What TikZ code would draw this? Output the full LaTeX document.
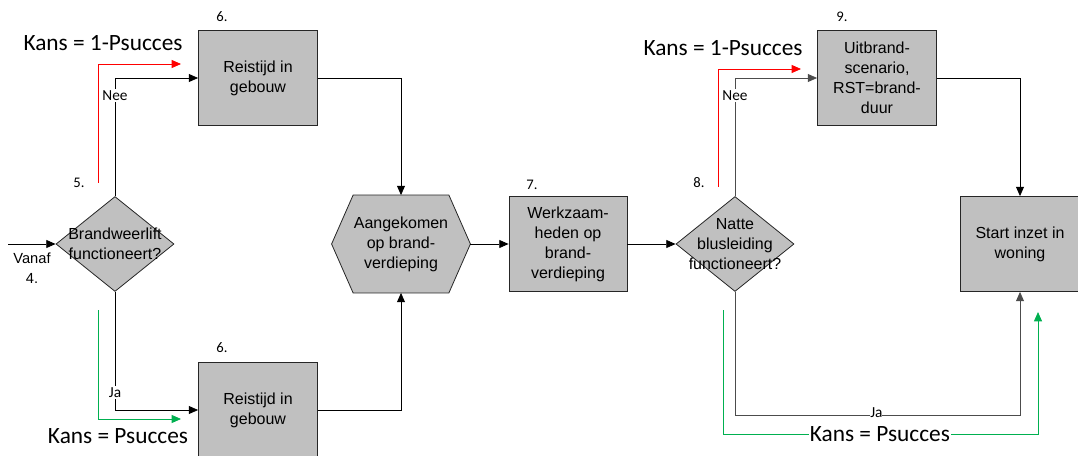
\documentclass[tikz,border=0pt]{standalone}
\usepackage{fontspec}
\setmainfont{Liberation Sans}
\newfontfamily\calibri{Carlito}
\usepackage{tikz}
\usetikzlibrary{shapes.geometric, arrows.meta, calc}
\definecolor{boxgray}{RGB}{192,192,192}
\definecolor{kansrood}{RGB}{255,0,0}
\definecolor{kansgroen}{RGB}{0,176,80}
\tikzstyle{flow} = [-{Triangle[length=7pt,width=6pt]}]
\tikzstyle{stap} = [rectangle, draw=black!85, fill=boxgray, minimum width=89.25pt, minimum height=71.25pt, align=center, font=\fontsize{12}{15}\selectfont]
\tikzstyle{keuze} = [diamond, draw=black!85, fill=boxgray, minimum width=88.5pt, minimum height=71.25pt, inner sep=0pt]
\tikzstyle{tekst} = [align=center, font=\fontsize{12}{15}\selectfont]
\tikzstyle{nr} = [font=\calibri\fontsize{11}{13}\selectfont]
\tikzstyle{kans} = [font=\calibri\fontsize{17.5}{20}\selectfont]
\tikzstyle{lbl} = [fill=white, inner sep=1pt, font=\calibri\fontsize{11.5}{13}\selectfont]

\begin{document}
\begin{tikzpicture}[x=0.75pt,y=-0.75pt,line width=0.6pt]
\useasboundingbox (0,0) rectangle (1078,456);
% blokken
\node[keuze] (lift) at (115,244) {};
\node[tekst] (lifttxt) at (lift) {Brandweerlift\\functioneert?};
\node[stap] (reisboven) at (258,78) {Reistijd in\\gebouw};
\node[stap] (reisonder) at (258,410) {Reistijd in\\gebouw};
\node[tekst, minimum width=103.5pt, minimum height=72.75pt, inner sep=0pt] (aan) at (401,244) {};
\draw[draw=black!85, fill=boxgray] (aan.west) -- ($(aan.north west)+(21.5,0)$) -- ($(aan.north east)+(-21.5,0)$)
  -- (aan.east) -- ($(aan.south east)+(-21.5,0)$) -- ($(aan.south west)+(21.5,0)$) -- cycle;
\node[tekst] (aantxt) at (aan) {Aangekomen\\op brand-\\verdieping};
\node[stap, minimum width=88.5pt] (werk) at (568,244) {Werkzaam-\\heden op\\brand-\\verdieping};
\node[keuze] (natte) at (735,244) {};
\node[tekst] (nattetxt) at (natte) {Natte\\blusleiding\\functioneert?};
\node[stap] (uitbrand) at (877,78) {Uitbrand-\\scenario,\\RST=brand-\\duur};
\node[stap] (start) at (1020,244) {Start inzet in\\woning};
% nummers
\node[nr] (n4) at (32,268) [align=center, font=\fontsize{11}{15}\selectfont] {Vanaf\\4.};
\node[nr] (n5) at (79,183) {5.};
\node[nr] (n6a) at (222,17) {6.};
\node[nr] (n6b) at (222,348) {6.};
\node[nr] (n7) at (532,185) {7.};
\node[nr] (n8) at (699,183) {8.};
\node[nr] (n9) at (842,17) {9.};
% verbindingen
\coordinate (vanaf) at (8,244);
\draw[flow] (vanaf) -- (lift.west);
\draw[flow] (lift.north) |- node[lbl, pos=0.425] {Nee} (reisboven.west);
\draw[flow] (lift.south) |- node[lbl, pos=0.427] {Ja} (reisonder.west);
\draw[flow] (reisboven.east) -| (aan.north);
\draw[flow] (reisonder.east) -| (aan.south);
\draw[flow] (aan.east) -- (werk.west);
\draw[flow] (werk.east) -- (natte.west);
\draw[flow, black!70] (natte.north) |- node[lbl, text=black, pos=0.425] {Nee} (uitbrand.west);
\draw[flow] (uitbrand.east) -| (start.north);
\coordinate (jabocht) at (735,415);
\draw[flow, black!70] (natte.south) -- (jabocht) -| node[lbl, text=black, pos=0.248, yshift=2pt, inner sep=0pt] {Ja} (start.south);
% kansen
\coordinate (r1a) at (98,183);
\coordinate (r1b) at (181,64);
\draw[flow, kansrood] (r1a) |- (r1b);
\node[kans] (k1) at (103,43) {Kans = 1-Psucces};
\coordinate (g1a) at (98,310);
\coordinate (g1b) at (181,419);
\draw[flow, kansgroen] (g1a) |- (g1b);
\node[kans] (k2) at (118,436) {Kans = Psucces};
\coordinate (r2a) at (718,187);
\coordinate (r2b) at (801,69);
\draw[flow, kansrood] (r2a) |- (r2b);
\node[kans] (k3) at (723,48) {Kans = 1-Psucces};
\coordinate (g2a) at (723,310);
\coordinate (g2c) at (1038,434);
\coordinate (g2b) at (1038,312);
\draw[flow, kansgroen] (g2a) |- node[kans, fill=white, text=black, inner sep=1pt, pos=0.749] {Kans = Psucces} (g2c) -- (g2b);
\end{tikzpicture}
\end{document}
